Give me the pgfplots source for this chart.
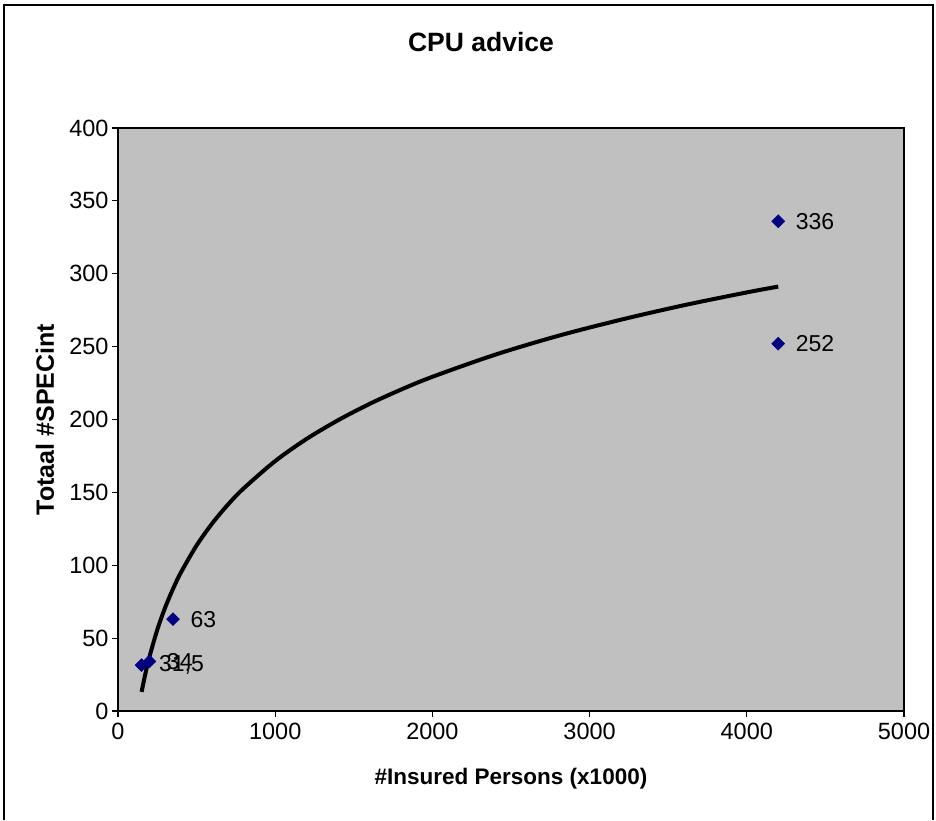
\documentclass[border=0pt]{standalone}
\usepackage{pgfplots}
\pgfplotsset{compat=1.18}
\usepackage{fontspec}
\setmainfont{Liberation Sans}

\definecolor{plotgray}{RGB}{192,192,192}
\definecolor{navymark}{RGB}{0,0,128}

\begin{document}
\begin{tikzpicture}[x=1pt,y=1pt]
\useasboundingbox (0,0) rectangle (936,820);
% outer chart frame (bottom edge is cut off in the reference)
\draw[line width=1.2pt] (4,0) -- (4,815) -- (933,815) -- (933,0);
\node[font=\fontsize{26.5}{30}\selectfont\bfseries] at (481,778) {CPU advice};

\begin{axis}[
    at={(118pt,109pt)}, anchor=south west,
    scale only axis,
    width=786pt, height=583pt,
    xmin=0, xmax=5000,
    ymin=0, ymax=400,
    xtick={0,1000,...,5000},
    ytick={0,50,...,400},
    axis background/.style={fill=plotgray},
    axis line style={draw=black, line width=1.3pt},
    tick style={draw=black, line width=1.1pt},
    tick align=outside,
    major tick length=6pt,
    xtick pos=bottom, ytick pos=left,
    ticklabel style={font=\fontsize{23.5}{26}\selectfont},
    /pgf/number format/assume math mode=true,
    /pgf/number format/set thousands separator={},
    xticklabel style={yshift=-3pt},
    yticklabel style={xshift=0pt},
    xlabel={\bfseries \#Insured Persons (x1000)},
    ylabel={\bfseries Totaal \#SPECint},
    xlabel style={font=\fontsize{22.5}{25}\selectfont, at={(axis description cs:0.5,0)}, anchor=center, yshift=-68pt},
    ylabel style={font=\fontsize{25}{28}\selectfont, at={(axis description cs:0,0.5)}, anchor=center, yshift=73pt},
    clip=false,
]
% data points
\addplot[only marks, mark=square*, mark size=4.6pt, mark options={rotate=45}, color=navymark,
    point meta=explicit symbolic,
    nodes near coords, nodes near coords align={anchor=west},
    every node near coord/.style={font=\fontsize{23}{26}\selectfont, text=black, anchor=west, xshift=14pt}]
    table[meta=label] {
x    y     label
150  31.5  {31,5}
200  34    34
350  63    63
4200 336   336
4200 252   252
};
% logarithmic trendline
\addplot[black, line width=4pt, smooth, no marks] coordinates {
(150,13.1) (175,26.0) (200,37.1) (250,55.8) (300,71.0) (350,83.8)
(400,95.0) (500,113.6) (600,128.8) (700,141.7) (800,152.8) (1000,171.5)
(1200,186.7) (1400,199.5) (1600,210.7) (1800,220.5) (2000,229.3)
(2400,244.5) (2800,257.4) (3200,268.5) (3600,278.4) (4000,287.2) (4200,291.2)
};
\end{axis}
\end{tikzpicture}
\end{document}
